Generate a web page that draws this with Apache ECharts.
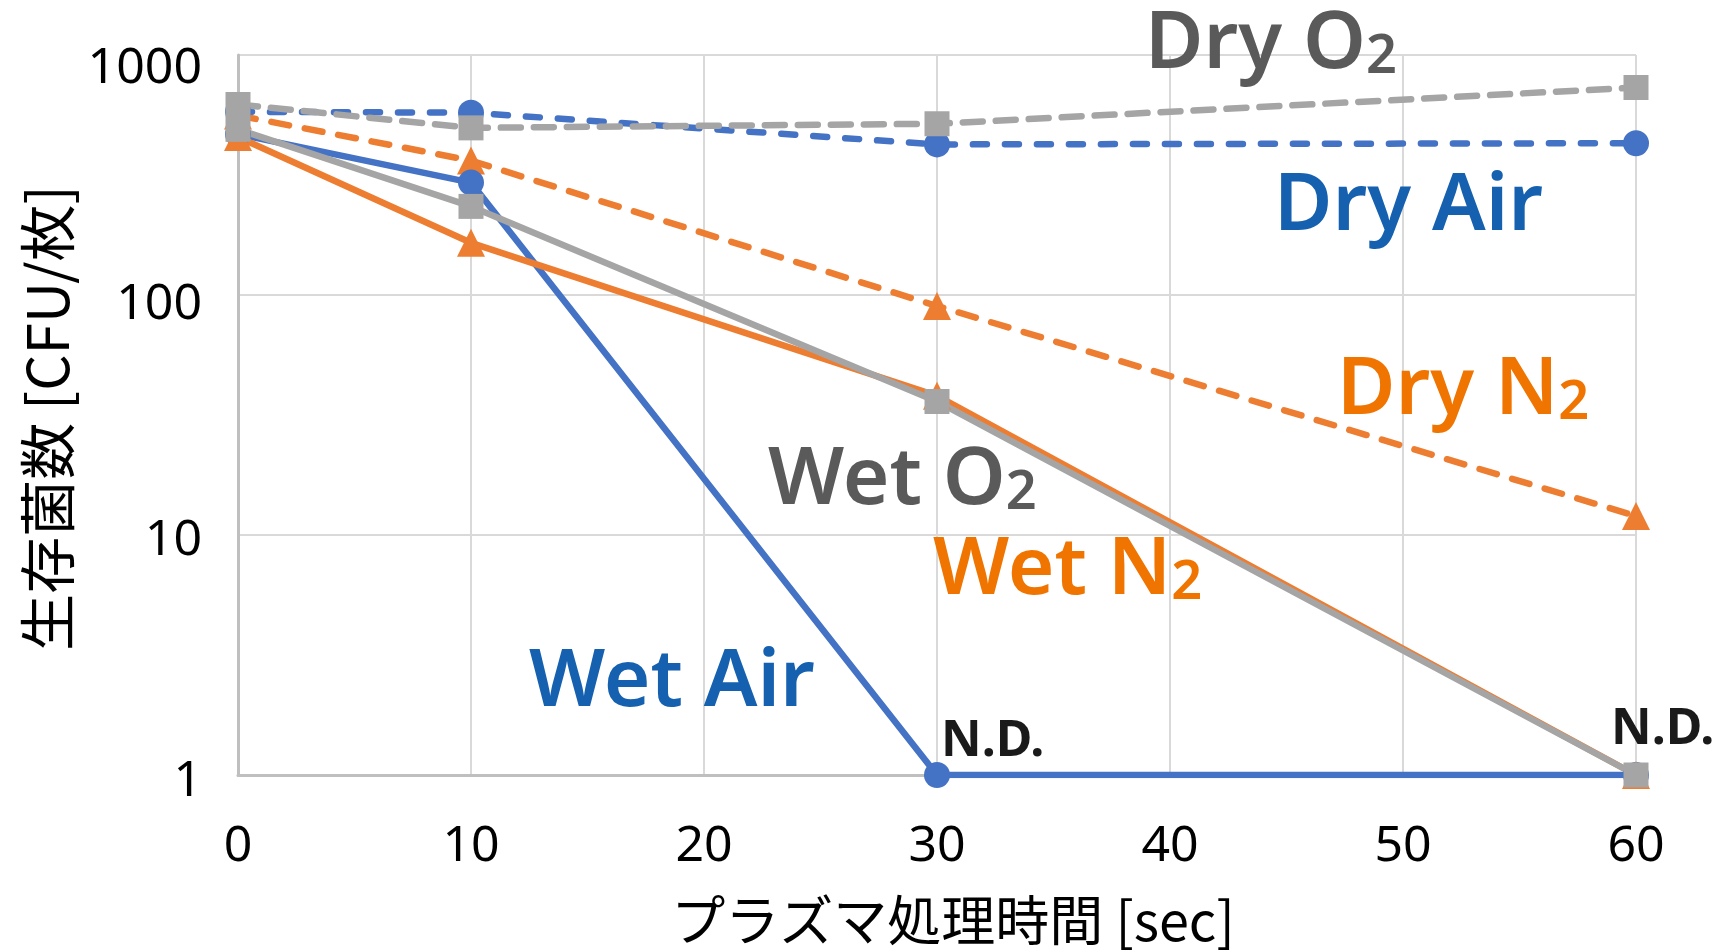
<!DOCTYPE html>
<html><head><meta charset="utf-8">
<script src="https://cdn.jsdelivr.net/npm/echarts@6/dist/echarts.min.js"></script>
<style>html,body{margin:0;padding:0;background:#fff}#c{width:1726px;height:952px}</style>
</head><body><div id="c"></div>
<script>
// ---- data ----
const times = [0, 10, 30, 60];
const dryAir = [580, 575, 424, 429];
const dryN2  = [560, 363, 90, 12.0];
const dryO2  = [622, 497, 517, 732];
const wetAir = [468, 294, 1, 1];
const wetN2  = [455, 165, 38, 1];
const wetO2  = [490, 234, 36, 1];
const seriesNames = ['Dry Air', 'Dry N2', 'Dry O2', 'Wet Air', 'Wet N2', 'Wet O2'];
const xAxisTitle = 'プラズマ処理時間 [sec]';
const yAxisTitle = '生存菌数 [CFU/枚]';
const ndText = 'N.D.';

const BLUE = '#4472C4', ORANGE = '#ED7D31', GRAY = '#A5A5A5';
const T_BLUE = '#1660B0', T_ORANGE = '#F07400', T_GRAY = '#5A5A5A';
const LATIN = '"Noto Sans", "Noto Sans CJK JP", sans-serif';
const CJK = '"Noto Sans CJK JP", sans-serif';

const pairs = arr => times.map((t, i) => [t, arr[i]]);

function mkSeries(name, arr, color, symbol, dashed, dash) {
  return {
    name, type: 'line', data: pairs(arr),
    symbol, symbolSize: symbol === 'triangle' ? 28 : (symbol === 'rect' ? 25 : 26),
    itemStyle: { color },
    lineStyle: { color, width: 6.5, type: dashed ? dash : 'solid', cap: 'round', join: 'round' },
    emphasis: { disabled: true },
    animation: false, z: 2
  };
}

const chart = echarts.init(document.getElementById('c'), null, { renderer: 'canvas' });

function annot(main, sub, x, yc, color) {
  return {
    type: 'text', x: x, y: yc, z: 50,
    style: {
      text: sub ? `{a|${main}}{b|${sub}}` : `{a|${main}}`,
      align: 'left', verticalAlign: 'middle', fill: color,
      rich: {
        a: { fontSize: 80, lineHeight: 80, fontFamily: LATIN, fontWeight: 600, fill: color },
        b: { fontSize: 54, lineHeight: 63, fontFamily: LATIN, fontWeight: 600, fill: color, verticalAlign: 'bottom' }
      }
    }
  };
}
function nd(x, yc) {
  return { type: 'text', x: x, y: yc, z: 50,
    style: { text: ndText, fontSize: 50, fontFamily: LATIN, fontWeight: 'bold', fill: '#1a1a1a', align: 'left', verticalAlign: 'middle' } };
}

const yOffsets = { 1: [14, 0, 0, 0], 10: [12, 0, 0, 0], 100: [20, 0, 0, 0], 1000: [28, 0, 0, 0] };

chart.setOption({
  backgroundColor: '#fff',
  animation: false,
  textStyle: { fontFamily: LATIN },
  grid: { left: 238, right: 90, top: 55, bottom: 170, containLabel: false },
  xAxis: {
    type: 'value', min: 0, max: 60, interval: 10,
    name: xAxisTitle, nameLocation: 'middle', nameGap: 118,
    nameTextStyle: { fontFamily: CJK, fontSize: 54, color: '#000', padding: [0, 0, 0, 32] },
    axisLine: { show: true, lineStyle: { color: '#BFBFBF', width: 3 } },
    axisTick: { show: false },
    axisLabel: { fontSize: 50, color: '#000', margin: 47, fontFamily: LATIN },
    splitLine: { show: true, lineStyle: { color: '#D9D9D9', width: 2 } }
  },
  yAxis: {
    type: 'log', logBase: 10, min: 1, max: 1000,
    name: yAxisTitle, nameLocation: 'middle', nameGap: 162, nameRotate: 90,
    nameTextStyle: { fontFamily: CJK, fontSize: 57, color: '#000', padding: [0, 6, 0, 0] },
    axisLine: { show: true, lineStyle: { color: '#BFBFBF', width: 3 } },
    axisTick: { show: false },
    axisLabel: {
      fontSize: 50, color: '#000', margin: 36, fontFamily: LATIN,
      formatter: v => `{t${Math.round(v)}|${Math.round(v)}}`,
      rich: Object.fromEntries(Object.keys(yOffsets).map(k => ['t' + k, { fontSize: 50, fontFamily: LATIN, color: '#000', padding: yOffsets[k] }]))
    },
    splitLine: { show: true, lineStyle: { color: '#D9D9D9', width: 2 } }
  },
  series: [
    mkSeries(seriesNames[0], dryAir, BLUE, 'circle', true, [14, 18]),
    mkSeries(seriesNames[1], dryN2, ORANGE, 'triangle', true, [18, 16]),
    mkSeries(seriesNames[2], dryO2, GRAY, 'rect', true, [20, 13]),
    mkSeries(seriesNames[3], wetAir, BLUE, 'circle', false),
    mkSeries(seriesNames[4], wetN2, ORANGE, 'triangle', false),
    mkSeries(seriesNames[5], wetO2, GRAY, 'rect', false)
  ],
  graphic: [
    annot('Dry O', '2', 1145, 45, T_GRAY),
    annot('Dry Air', '', 1274, 207, T_BLUE),
    annot('Dry N', '2', 1337, 391, T_ORANGE),
    annot('Wet O', '2', 768, 481, T_GRAY),
    annot('Wet N', '2', 933, 571, T_ORANGE),
    annot('Wet Air', '', 529, 683, T_BLUE),
    nd(941, 742),
    nd(1611, 730)
  ]
});
</script>
</body></html>
